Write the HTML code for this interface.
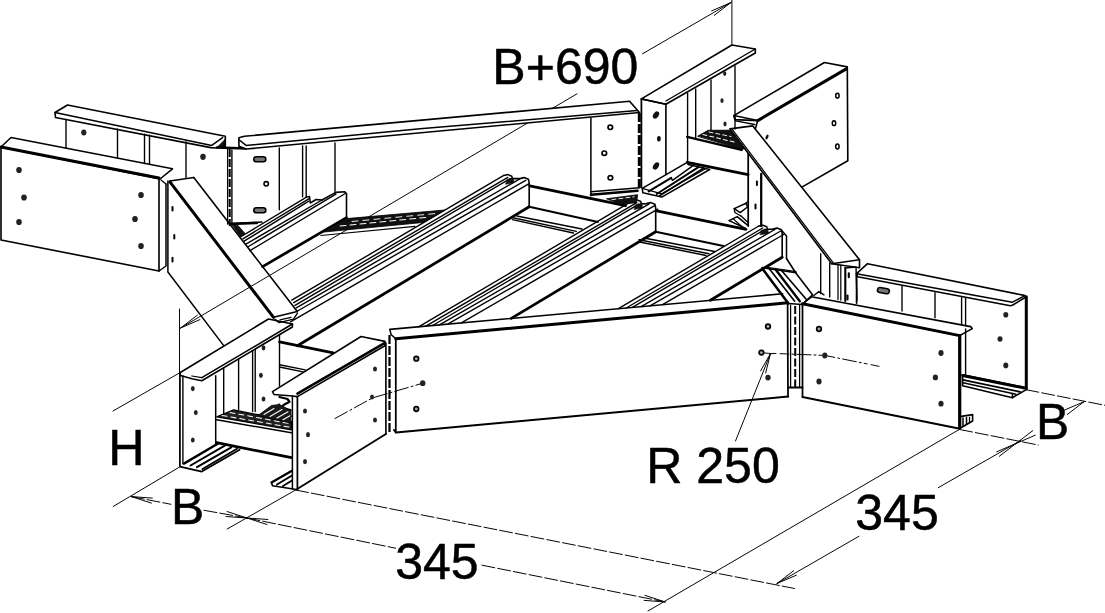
<!DOCTYPE html>
<html><head><meta charset="utf-8"><title>drawing</title>
<style>
html,body{margin:0;padding:0;background:#fff;}
body{width:1105px;height:613px;overflow:hidden;}
svg{display:block;}
text{font-family:"Liberation Sans",sans-serif;fill:#000;}
</style></head><body>
<svg width="1105" height="613" viewBox="0 0 1105 613" fill="none" stroke="#000" stroke-linecap="round" stroke-linejoin="round">
<rect x="0" y="0" width="1105" height="613" fill="#fff" stroke="none"/>
<text transform="translate(492.3,83.5) scale(0.995,1)" font-size="50.3" stroke="#000" stroke-width="0.5">B+690</text>
<text transform="translate(108.2,464.6) scale(0.995,1)" font-size="50.6" stroke="#000" stroke-width="0.5">H</text>
<text transform="translate(171.0,524.0) scale(0.985,1)" font-size="50.6" stroke="#000" stroke-width="0.5">B</text>
<text transform="translate(395.2,579.0) scale(0.995,1)" font-size="50.3" stroke="#000" stroke-width="0.5">345</text>
<text transform="translate(646.2,482.5) scale(0.995,1)" font-size="50.3" stroke="#000" stroke-width="0.5">R 250</text>
<text transform="translate(855.3,530.0) scale(0.995,1)" font-size="50.3" stroke="#000" stroke-width="0.5">345</text>
<text transform="translate(1036.0,439.3) scale(0.985,1)" font-size="50.6" stroke="#000" stroke-width="0.5">B</text>
<polyline points="180.6,328.0 577.0,93.8" stroke-width="0.98" />
<polyline points="642.5,53.8 731.0,2.5" stroke-width="0.98" />
<polyline points="180.6,328.0 197.3,315.2" stroke-width="0.98" />
<polyline points="180.6,328.0 199.9,319.6" stroke-width="0.98" />
<polyline points="731.0,2.5 714.3,15.3" stroke-width="0.98" />
<polyline points="731.0,2.5 711.7,10.9" stroke-width="0.98" />
<polyline points="731.9,0.0 731.9,45.0" stroke-width="0.98" />
<polyline points="179.5,309.0 179.5,372.0" stroke-width="0.98" />
<polyline points="113.0,411.0 179.9,372.7" stroke-width="0.98" />
<polyline points="113.2,506.5 179.3,467.2" stroke-width="0.98" />
<polyline points="295.6,490.0 227.2,529.0" stroke-width="0.98" />
<polyline points="131.4,496.6 171.0,504.3" stroke-width="0.98" stroke-dasharray="13 3"/>
<polyline points="204.0,510.3 247.0,518.0" stroke-width="0.98" stroke-dasharray="13 3"/>
<polyline points="247.0,518.0 395.7,548.2" stroke-width="0.98" stroke-dasharray="13 3"/>
<polyline points="482.0,565.2 665.0,601.9" stroke-width="0.98" stroke-dasharray="13 3"/>
<polyline points="295.6,490.0 794.5,588.5" stroke-width="0.98" stroke-dasharray="13 3"/>
<polyline points="131.4,496.6 152.3,498.1" stroke-width="0.98" />
<polyline points="131.4,496.6 151.4,503.1" stroke-width="0.98" />
<polyline points="247.0,518.0 226.1,516.5" stroke-width="0.98" />
<polyline points="247.0,518.0 227.0,511.5" stroke-width="0.98" />
<polyline points="247.0,518.0 267.9,519.5" stroke-width="0.98" />
<polyline points="247.0,518.0 267.0,524.5" stroke-width="0.98" />
<polyline points="665.0,601.9 644.1,600.4" stroke-width="0.98" />
<polyline points="665.0,601.9 645.0,595.4" stroke-width="0.98" />
<polyline points="959.7,429.2 648.0,611.0" stroke-width="0.98" />
<polyline points="959.7,429.5 1038.3,445.0" stroke-width="0.98" stroke-dasharray="13 3"/>
<polyline points="1026.0,389.7 1105.0,405.3" stroke-width="0.98" stroke-dasharray="13 3"/>
<polyline points="1020.8,440.5 938.2,487.7" stroke-width="0.98" />
<polyline points="858.9,536.3 777.0,583.5" stroke-width="0.98" />
<polyline points="777.0,583.5 793.7,570.7" stroke-width="0.98" />
<polyline points="777.0,583.5 796.3,575.2" stroke-width="0.98" />
<polyline points="1016.0,443.5 999.3,456.3" stroke-width="0.98" />
<polyline points="1016.0,443.5 996.7,451.8" stroke-width="0.98" />
<polyline points="1016.0,443.5 1032.7,430.7" stroke-width="0.98" />
<polyline points="1016.0,443.5 1035.3,435.2" stroke-width="0.98" />
<polyline points="1084.0,401.7 1067.3,414.5" stroke-width="0.98" />
<polyline points="1084.0,401.7 1064.7,410.0" stroke-width="0.98" />
<polyline points="770.5,353.5 735.5,441.0" stroke-width="0.98" />
<polyline points="761.5,352.7 773.0,353.7" stroke-width="0.98" />
<polyline points="770.5,353.5 765.7,372.9" stroke-width="0.98" />
<polyline points="770.5,353.5 760.6,370.9" stroke-width="0.98" />
<polyline points="335.0,418.5 372.3,398.0 422.7,383.2" stroke-width="0.98" stroke-dasharray="14 3 2 3"/>
<polyline points="773.0,353.4 824.8,355.4 879.0,366.3" stroke-width="0.98" stroke-dasharray="3 4 9 3 2 3 14 3 2 3"/>
<polygon points="11.0,137.5 172.5,168.8 160.0,179.0 1.0,147.0" stroke-width="1.5" fill="#fff" />
<polyline points="1.0,147.0 159.0,178.0" stroke-width="3.0" />
<polyline points="1.0,147.0 1.0,240.0 159.0,271.0 159.0,178.0" stroke-width="1.62" />
<polyline points="166.0,184.0 166.0,266.0 159.0,271.0" stroke-width="1.5" />
<polyline points="161.0,180.0 166.0,184.0" stroke-width="1.25" />
<ellipse cx="19.0" cy="170.0" rx="2.8" ry="3.1" fill="#222" stroke="none"/>
<ellipse cx="24.0" cy="197.5" rx="2.8" ry="3.1" fill="#222" stroke="none"/>
<ellipse cx="19.0" cy="222.0" rx="2.8" ry="3.1" fill="#222" stroke="none"/>
<ellipse cx="141.0" cy="195.0" rx="2.8" ry="3.1" fill="#222" stroke="none"/>
<ellipse cx="135.0" cy="219.0" rx="2.8" ry="3.1" fill="#222" stroke="none"/>
<ellipse cx="141.0" cy="246.0" rx="2.8" ry="3.1" fill="#222" stroke="none"/>
<polygon points="67.5,105.0 225.3,136.3 225.3,146.3 217.0,148.0 210.8,147.6 55.5,117.5 55.0,112.5" stroke-width="1.62" fill="#fff" />
<polyline points="55.0,112.5 211.7,145.4 222.6,137.7" stroke-width="1.5" />
<polygon points="218.0,146.5 225.0,139.5 225.0,146.5" stroke-width="0.8" fill="#111" />
<polyline points="217.0,147.6 246.0,148.4" stroke-width="2.5" />
<polyline points="66.0,120.0 66.0,148.0" stroke-width="1.38" />
<polyline points="117.5,129.0 117.5,158.0" stroke-width="1.38" />
<polyline points="144.5,134.3 144.5,163.5" stroke-width="1.38" />
<polyline points="149.5,135.2 149.5,164.4" stroke-width="1.38" />
<polyline points="186.0,141.8 186.0,178.0" stroke-width="1.38" />
<ellipse cx="83.8" cy="132.5" rx="2.6" ry="3.0" fill="#222" stroke="none"/>
<ellipse cx="203.0" cy="156.8" rx="2.8" ry="3.1" fill="#222" stroke="none"/>
<polyline points="229.7,149.0 229.7,226.0" stroke-width="2.0" stroke-dasharray="8 2" stroke-linecap="butt"/>
<polyline points="231.9,150.0 231.9,223.6" stroke-width="1.38" />
<polyline points="227.6,149.0 227.6,224.0" stroke-width="1.25" />
<polygon points="238.9,137.7 244.3,136.3 629.6,101.3 639.4,112.5 246.1,149.0 238.9,146.3" stroke-width="1.62" fill="#fff" />
<polyline points="239.3,140.0 246.1,145.4 420.0,128.8 637.2,110.6" stroke-width="1.5" />
<polyline points="279.3,148.0 279.3,209.7" stroke-width="1.38" />
<polyline points="302.6,146.0 302.6,196.7" stroke-width="1.38" />
<polyline points="306.2,146.0 306.2,196.7" stroke-width="1.38" />
<polyline points="335.0,143.0 335.0,193.7" stroke-width="1.38" />
<rect x="253.8" y="156.8" width="12" height="5" rx="2.5" stroke-width="1.6" fill="#777"/>
<rect x="253.8" y="207.8" width="12" height="5" rx="2.5" stroke-width="1.6" fill="#777"/>
<ellipse cx="266.2" cy="183.8" rx="2.2" ry="2.2" fill="#fff" stroke-width="1.6"/>
<polyline points="231.9,223.6 262.0,222.0" stroke-width="1.5" />
<polyline points="169.9,180.9 193.8,177.5" stroke-width="1.5" />
<polyline points="169.9,181.9 273.5,317.3" stroke-width="3.0" />
<polyline points="193.8,177.5 297.3,311.6" stroke-width="1.62" />
<polyline points="167.9,181.0 167.9,272.0 223.7,345.6" stroke-width="1.5" />
<polyline points="273.5,317.3 297.3,311.6" stroke-width="1.5" />
<polyline points="172.5,207.0 172.5,210.6" stroke-width="2.0" />
<polyline points="174.3,234.9 174.3,238.5" stroke-width="2.0" />
<polyline points="172.5,257.8 172.5,261.4" stroke-width="2.0" />
<polygon points="179.9,372.7 268.5,319.0 292.4,324.0 292.4,327.0 201.8,380.7 191.9,378.7 180.5,375.5" stroke-width="1.62" fill="#fff" />
<polyline points="201.8,377.7 292.4,324.0" stroke-width="1.5" />
<polyline points="191.9,376.0 201.8,377.7" stroke-width="1.25" />
<polyline points="179.9,372.7 179.9,466.6 201.8,471.6 239.6,449.7" stroke-width="1.75" />
<polyline points="182.9,376.0 182.9,463.8" stroke-width="1.38" />
<polyline points="183.9,463.6 217.7,443.7" stroke-width="2.38" />
<polyline points="190.5,465.5 224.8,445.7" stroke-width="2.0" />
<polyline points="197.0,467.2 231.3,447.3" stroke-width="2.0" />
<polyline points="202.5,469.0 237.0,448.8" stroke-width="1.88" />
<polyline points="215.7,375.7 215.7,443.7" stroke-width="1.5" />
<polyline points="223.7,367.7 223.7,414.0" stroke-width="1.38" />
<polyline points="238.6,358.9 238.6,409.5" stroke-width="1.38" />
<polyline points="252.6,350.6 252.6,411.5" stroke-width="1.38" />
<polyline points="255.2,349.0 255.2,411.5" stroke-width="1.38" />
<polyline points="279.5,334.6 279.5,386.0" stroke-width="1.38" />
<ellipse cx="192.8" cy="388.6" rx="1.9" ry="2.6" fill="#222" stroke="none"/>
<ellipse cx="195.8" cy="412.5" rx="1.9" ry="2.6" fill="#222" stroke="none"/>
<ellipse cx="192.8" cy="440.0" rx="1.9" ry="2.6" fill="#222" stroke="none"/>
<ellipse cx="263.5" cy="347.8" rx="1.9" ry="2.6" fill="#222" stroke="none"/>
<ellipse cx="260.9" cy="375.3" rx="1.9" ry="2.6" fill="#222" stroke="none"/>
<ellipse cx="263.5" cy="399.0" rx="1.9" ry="2.6" fill="#222" stroke="none"/>
<polygon points="216.7,416.8 233.7,409.9 291.4,421.5 291.4,429.8" stroke-width="1.25" fill="#222" />
<polyline points="222.0,415.5 289.0,427.0" stroke-width="1.03" stroke="#fff" stroke-dasharray="5 4"/>
<polyline points="230.0,412.5 289.0,423.5" stroke-width="1.03" stroke="#fff" stroke-dasharray="5 4"/>
<polyline points="216.7,419.8 291.4,432.8" stroke-width="1.5" />
<polyline points="216.7,442.7 291.4,457.6" stroke-width="2.75" />
<polygon points="272.5,391.6 361.0,336.5 384.9,341.4 384.9,345.8 297.4,396.6 292.4,396.0 274.0,394.5" stroke-width="1.62" fill="#fff" />
<polyline points="297.4,393.6 384.9,342.8" stroke-width="2.5" />
<polyline points="292.4,396.0 292.4,489.0" stroke-width="1.5" />
<polyline points="297.4,396.6 297.4,489.5" stroke-width="1.75" />
<polyline points="296.4,489.5 385.9,434.0" stroke-width="1.88" />
<polyline points="271.5,482.5 272.5,485.8 296.4,489.5" stroke-width="1.62" />
<polyline points="271.5,482.5 291.5,471.0" stroke-width="2.25" />
<polyline points="277.0,484.5 292.0,475.5" stroke-width="2.0" />
<polyline points="283.0,486.0 292.0,480.5" stroke-width="2.0" />
<ellipse cx="305.0" cy="411.0" rx="2.0" ry="2.6" fill="#222" stroke="none"/>
<ellipse cx="308.0" cy="434.7" rx="2.0" ry="2.6" fill="#222" stroke="none"/>
<ellipse cx="305.0" cy="461.6" rx="2.0" ry="2.6" fill="#222" stroke="none"/>
<ellipse cx="375.0" cy="369.0" rx="2.0" ry="2.6" fill="#222" stroke="none"/>
<ellipse cx="372.0" cy="397.0" rx="2.0" ry="2.6" fill="#222" stroke="none"/>
<ellipse cx="375.0" cy="420.0" rx="2.0" ry="2.6" fill="#222" stroke="none"/>
<polyline points="385.9,343.0 385.9,434.0" stroke-width="1.62" />
<polyline points="389.5,335.0 389.5,434.0" stroke-width="2.25" stroke-dasharray="9 2" stroke-linecap="butt"/>
<polyline points="395.8,338.8 395.8,432.5" stroke-width="1.75" />
<polyline points="389.9,329.4 782.6,293.8" stroke-width="1.62" />
<polyline points="389.9,329.4 391.0,334.5 395.8,338.8" stroke-width="1.5" />
<polyline points="395.8,338.8 787.6,302.8" stroke-width="3.0" />
<polyline points="787.6,302.8 788.0,396.6" stroke-width="1.75" />
<polyline points="394.0,430.0 395.9,432.5 788.2,396.6" stroke-width="2.0" />
<ellipse cx="422.7" cy="383.2" rx="2.7" ry="2.9" fill="#222" stroke="none"/>
<ellipse cx="768.0" cy="377.6" rx="2.7" ry="2.9" fill="#222" stroke="none"/>
<circle cx="416.3" cy="358.7" r="2.3" fill="#aaa" stroke-width="1.7"/>
<circle cx="416.3" cy="409" r="2.3" fill="#aaa" stroke-width="1.7"/>
<circle cx="768" cy="326.5" r="2.3" fill="#aaa" stroke-width="1.7"/>
<circle cx="761.4" cy="352.6" r="2.3" fill="#aaa" stroke-width="1.7"/>
<polygon points="802.5,303.8 811.5,296.8 970.6,326.6 972.2,328.6 959.7,335.6" stroke-width="1.62" fill="#fff" />
<polyline points="802.5,303.8 959.7,335.6" stroke-width="3.0" />
<polyline points="802.5,303.8 802.5,397.0" stroke-width="1.75" />
<polyline points="959.7,335.6 959.7,427.5" stroke-width="3.25" />
<polyline points="802.5,397.0 958.7,428.5" stroke-width="2.0" />
<polyline points="959.7,416.6 972.6,414.6 972.6,421.0 959.7,428.5" stroke-width="1.62" />
<polyline points="963.0,418.0 963.0,426.0" stroke-width="1.5" />
<polyline points="966.5,417.5 966.5,424.0" stroke-width="1.5" />
<polyline points="969.5,417.0 969.5,422.5" stroke-width="1.25" />
<ellipse cx="824.8" cy="355.5" rx="2.6" ry="2.9" fill="#222" stroke="none"/>
<ellipse cx="819.0" cy="381.5" rx="2.6" ry="2.9" fill="#222" stroke="none"/>
<ellipse cx="941.0" cy="353.0" rx="2.6" ry="2.9" fill="#222" stroke="none"/>
<ellipse cx="935.4" cy="377.4" rx="2.6" ry="2.9" fill="#222" stroke="none"/>
<ellipse cx="941.0" cy="403.7" rx="2.6" ry="2.9" fill="#222" stroke="none"/>
<circle cx="819" cy="329" r="2.3" fill="#aaa" stroke-width="1.7"/>
<polygon points="867.5,263.7 1024.4,295.4 1026.3,296.8 1012.4,305.3 1010.4,305.7 857.6,276.7 856.6,273.7" stroke-width="1.62" fill="#fff" />
<polyline points="856.6,273.7 1012.4,302.2 1024.4,295.9" stroke-width="1.5" />
<polyline points="1026.3,296.8 1026.3,388.7" stroke-width="3.0" />
<polyline points="902.0,285.7 902.0,311.0" stroke-width="1.38" />
<polyline points="935.0,292.7 935.0,317.7" stroke-width="1.38" />
<polyline points="961.6,297.8 961.6,324.7" stroke-width="1.38" />
<polyline points="965.6,298.5 965.6,325.5" stroke-width="1.38" />
<polyline points="965.6,329.0 965.6,375.0" stroke-width="1.38" />
<rect x="877.4" y="288.1" width="12" height="5" rx="2.5" stroke-width="1.6" fill="#777" transform="rotate(10 883.4 290.6)"/>
<ellipse cx="1005.8" cy="314.7" rx="2.5" ry="2.8" fill="#222" stroke="none"/>
<ellipse cx="1000.0" cy="339.0" rx="2.5" ry="2.8" fill="#222" stroke="none"/>
<ellipse cx="1005.8" cy="365.4" rx="2.5" ry="2.8" fill="#222" stroke="none"/>
<polygon points="962.6,374.8 1026.0,387.7 1026.0,389.7 1012.4,397.7 962.6,385.7" stroke-width="1.62" fill="#fff" />
<polyline points="962.6,375.5 1026.0,388.3" stroke-width="3.0" />
<polyline points="963.0,379.8 1020.0,391.8" stroke-width="1.88" />
<polyline points="963.0,382.8 1016.0,394.2" stroke-width="1.5" />
<polyline points="1012.4,393.5 1012.4,397.7" stroke-width="1.5" />
<polygon points="733.8,115.6 824.4,62.5 847.3,66.9 847.8,160.8 801.0,187.6 755.0,130.0 757.7,120.6 734.8,119.6" stroke-width="1.62" fill="#fff" />
<polyline points="733.8,115.6 757.7,120.6" stroke-width="1.5" />
<polyline points="757.7,120.6 846.3,68.9" stroke-width="3.0" />
<ellipse cx="837.4" cy="95.7" rx="1.7" ry="2.4" fill="#fff" stroke-width="1.5"/>
<ellipse cx="834" cy="123.2" rx="1.7" ry="2.4" fill="#fff" stroke-width="1.5"/>
<ellipse cx="837.4" cy="146.5" rx="1.7" ry="2.4" fill="#fff" stroke-width="1.5"/>
<polygon points="729.9,128.9 752.8,125.9 859.5,259.7 859.5,267.7 831.7,263.7" stroke-width="1.62" fill="#fff" />
<polyline points="732.2,129.3 833.5,263.2" stroke-width="1.25" />
<polyline points="831.7,263.7 859.5,259.7" stroke-width="1.5" />
<polyline points="820.7,253.8 820.7,293.6" stroke-width="1.38" />
<polyline points="829.7,263.0 829.7,297.0" stroke-width="1.38" />
<polyline points="838.0,265.0 838.0,299.5" stroke-width="1.25" />
<polyline points="840.8,265.3 840.8,300.0" stroke-width="1.25" />
<polyline points="845.3,268.0 845.3,301.0" stroke-width="2.12" />
<polyline points="856.6,273.7 856.6,303.0" stroke-width="1.75" />
<polygon points="641.4,98.9 731.9,45.0 755.3,49.0 755.3,53.0 665.9,104.3" stroke-width="1.62" fill="#fff" />
<polyline points="665.9,104.3 641.4,98.9" stroke-width="1.5" />
<polyline points="665.9,101.0 755.3,49.0" stroke-width="1.38" />
<polyline points="641.4,98.9 641.4,187.0" stroke-width="1.75" />
<polyline points="665.9,104.3 665.9,174.8" stroke-width="1.62" />
<ellipse cx="656" cy="115" rx="2.6" ry="4" fill="#111" stroke="none" transform="rotate(35 656 115)"/>
<ellipse cx="658.9" cy="138.7" rx="1.9" ry="2.8" fill="#111" stroke="none"/>
<ellipse cx="656" cy="165.9" rx="2.6" ry="4" fill="#111" stroke="none" transform="rotate(35 656 165.9)"/>
<polyline points="687.6,93.5 687.6,161.0" stroke-width="1.38" />
<polyline points="695.7,89.0 695.7,137.8" stroke-width="1.38" />
<polyline points="711.0,80.0 711.0,132.0" stroke-width="1.38" />
<polyline points="735.0,66.0 735.0,129.0" stroke-width="1.38" />
<ellipse cx="724.7" cy="73.6" rx="1.6" ry="2.4" fill="#222" stroke="none"/>
<ellipse cx="722.0" cy="100.7" rx="1.6" ry="2.4" fill="#222" stroke="none"/>
<ellipse cx="725.0" cy="124.0" rx="1.6" ry="2.4" fill="#222" stroke="none"/>
<polyline points="590.9,118.0 590.9,195.7" stroke-width="1.5" />
<polyline points="590.9,191.7 639.6,187.7" stroke-width="1.5" />
<polyline points="590.9,194.7 637.6,190.7" stroke-width="2.5" />
<ellipse cx="610.3" cy="127.3" rx="2.3" ry="2.2" fill="#fff" stroke-width="1.7"/>
<ellipse cx="604.3" cy="153.2" rx="2.3" ry="2.2" fill="#fff" stroke-width="1.7"/>
<ellipse cx="610.4" cy="177.8" rx="2.3" ry="2.2" fill="#fff" stroke-width="1.7"/>
<polyline points="639.3,113.0 639.3,190.0" stroke-width="3.0" stroke-dasharray="9 2" stroke-linecap="butt"/>
<polyline points="503.8,175.4 291.8,300.2" stroke-width="1.38" />
<polyline points="507.8,177.4 293.7,302.7" stroke-width="1.38" />
<polyline points="509.8,178.9 295.0,305.3" stroke-width="1.38" />
<polyline points="519.8,178.9 296.3,307.8" stroke-width="1.38" />
<polyline points="525.7,180.4 297.5,311.0" stroke-width="1.38" />
<polyline points="528.7,183.9 290.5,321.8" stroke-width="1.38" />
<polyline points="529.2,206.8 297.4,345.8" stroke-width="2.75" />
<polyline points="503.8,175.4 508.0,174.6 511.8,176.2 512.3,178.6 509.8,178.9" stroke-width="1.5" />
<polyline points="512.3,178.6 519.8,178.6 524.0,177.6 528.4,179.2 529.2,182.9 529.2,206.8" stroke-width="1.62" />
<polygon points="507.2,179.4 513.6,179.6 513.8,182.6 505.8,184.2" stroke-width="0.6" fill="#111" />
<polyline points="632.8,200.7 418.6,326.8" stroke-width="1.38" />
<polyline points="636.8,202.7 425.9,326.1" stroke-width="1.38" />
<polyline points="638.8,204.2 432.6,325.5" stroke-width="1.38" />
<polyline points="648.8,204.2 439.5,324.9" stroke-width="1.38" />
<polyline points="654.7,205.7 447.7,324.2" stroke-width="1.38" />
<polyline points="657.7,209.2 461.3,322.9" stroke-width="1.38" />
<polyline points="655.7,231.8 511.3,318.4" stroke-width="2.75" />
<polyline points="632.8,200.7 637.0,199.9 640.8,201.5 641.3,203.9 638.8,204.2" stroke-width="1.5" />
<polyline points="641.3,203.9 646.3,203.6 650.5,202.6 654.9,204.2 655.7,207.9 655.7,231.8" stroke-width="1.62" />
<polygon points="635.7,204.7 642.1,204.9 642.3,207.9 634.3,209.5" stroke-width="0.6" fill="#111" />
<polyline points="758.8,226.0 618.4,308.7" stroke-width="1.38" />
<polyline points="762.8,228.0 626.2,308.0" stroke-width="1.38" />
<polyline points="764.8,229.5 632.4,307.4" stroke-width="1.38" />
<polyline points="774.8,229.5 641.1,306.6" stroke-width="1.38" />
<polyline points="780.7,231.0 650.0,305.8" stroke-width="1.38" />
<polyline points="783.7,234.5 662.5,304.7" stroke-width="1.38" />
<polyline points="782.2,257.3 710.4,300.3" stroke-width="2.75" />
<polyline points="758.8,226.0 763.0,225.2 766.8,226.8 767.3,229.2 764.8,229.5" stroke-width="1.5" />
<polyline points="767.3,229.2 772.8,229.1 777.0,228.1 781.4,229.7 782.2,233.4 782.2,257.3" stroke-width="1.62" />
<polygon points="761.7,230.0 768.1,230.2 768.3,233.2 760.3,234.8" stroke-width="0.6" fill="#111" />
<polyline points="529.7,185.9 625.5,205.7" stroke-width="2.75" />
<polyline points="529.2,206.8 598.0,221.9" stroke-width="2.0" />
<polyline points="516.8,216.0 582.0,229.0" stroke-width="1.38" />
<polyline points="511.7,217.5 576.3,231.3" stroke-width="1.38" />
<polyline points="512.4,219.7 573.4,233.0" stroke-width="1.38" />
<polyline points="656.7,210.9 746.0,229.3" stroke-width="2.75" />
<polyline points="655.7,231.8 723.5,246.0" stroke-width="2.0" />
<polyline points="644.0,238.0 714.7,251.5" stroke-width="1.38" />
<polyline points="639.0,239.8 709.0,253.7" stroke-width="1.38" />
<polyline points="639.6,242.0 706.0,255.5" stroke-width="1.38" />
<polyline points="306.5,197.1 241.2,236.5" stroke-width="1.38" />
<polyline points="308.8,198.8 242.9,238.8" stroke-width="1.38" />
<polyline points="308.8,201.2 244.1,241.2" stroke-width="1.38" />
<polyline points="322.0,200.0 245.9,244.1" stroke-width="1.38" />
<polyline points="335.9,194.1 247.6,247.0" stroke-width="1.38" />
<polyline points="345.3,193.5 250.0,250.6" stroke-width="1.38" />
<polyline points="346.5,217.6 262.6,266.6" stroke-width="2.75" />
<polyline points="306.5,197.1 309.5,196.5 310.3,203.0 316.0,199.5 322.0,200.0" stroke-width="1.5" />
<polyline points="322.0,200.0 335.9,192.4 344.7,191.8 346.5,193.5 346.5,217.6" stroke-width="1.62" />
<polyline points="230.0,224.1 257.0,223.0" stroke-width="2.5" />
<polygon points="346.5,218.6 444.8,210.0 423.0,222.5 324.1,232.0" stroke-width="0.8" fill="#111" />
<polyline points="340.0,226.0 428.0,217.2" stroke-width="1.03" stroke="#fff" stroke-dasharray="6 4"/>
<polyline points="352.0,221.5 436.0,213.5" stroke-width="0.92" stroke="#fff" stroke-dasharray="6 5"/>
<polyline points="321.0,235.5 415.0,226.4" stroke-width="1.25" />
<polyline points="279.5,341.9 333.2,352.8" stroke-width="2.75" />
<polyline points="279.5,364.7 305.3,369.9" stroke-width="1.38" />
<polyline points="279.5,367.0 303.0,371.9" stroke-width="1.38" />
<polyline points="275.0,319.3 279.0,322.6 293.5,319.2 297.3,313.3" stroke-width="1.38" />
<polyline points="280.0,319.8 291.0,317.4" stroke-width="1.25" />
<polyline points="279.5,397.0 287.5,399.0 289.5,401.8 283.5,405.0 281.5,408.0 290.5,410.0" stroke-width="2.25" />
<polyline points="284.0,412.0 291.0,416.0" stroke-width="2.0" />
<polyline points="279.0,404.0 279.0,409.0 284.0,415.0" stroke-width="1.5" />
<polygon points="698.0,136.1 708.2,130.3 730.8,130.2 744.8,148.6 741.6,149.2" stroke-width="0.9" fill="#111" />
<polyline points="703.0,134.5 736.0,142.5" stroke-width="1.03" stroke="#fff" stroke-dasharray="4 3"/>
<polyline points="709.0,132.0 731.0,136.5" stroke-width="0.92" stroke="#fff" stroke-dasharray="4 3"/>
<polyline points="687.2,136.9 741.6,149.9" stroke-width="2.5" />
<polyline points="687.2,162.3 748.2,174.6" stroke-width="2.75" />
<polyline points="748.2,153.6 748.2,226.0" stroke-width="1.75" />
<polyline points="761.2,173.9 761.2,226.0" stroke-width="2.25" />
<polyline points="756.9,181.5 756.9,185.0" stroke-width="2.0" />
<polyline points="755.5,204.5 755.5,208.5" stroke-width="2.0" />
<polygon points="666.1,174.6 642.2,188.4 642.9,192.8 661.8,197.1 709.7,169.5 688.0,164.5 687.2,162.3" stroke-width="1.5" fill="#fff" />
<polyline points="648.7,191.3 671.2,177.9" stroke-width="2.12" />
<polyline points="671.2,177.9 672.5,180.3 692.0,166.3" stroke-width="1.5" />
<polyline points="656.7,194.0 698.1,167.4" stroke-width="2.0" />
<polyline points="659.6,195.7 703.9,168.1" stroke-width="1.75" />
<polyline points="642.2,188.4 661.8,193.8 706.0,168.5" stroke-width="1.25" />
<polyline points="734.4,115.8 735.8,120.9 754.7,124.5" stroke-width="1.38" />
<ellipse cx="767" cy="137" rx="1.3" ry="2.6" fill="#111" stroke="none" transform="rotate(25 767 137)"/>
<polyline points="734.2,208.6 746.1,203.2 747.5,207.0 740.2,212.6 734.2,208.6" stroke-width="1.5" />
<polyline points="734.2,208.6 734.8,212.5 741.0,216.0" stroke-width="1.38" />
<polyline points="729.2,220.6 737.2,216.6 747.5,225.2" stroke-width="1.5" />
<polyline points="729.2,220.6 745.2,228.2" stroke-width="1.5" />
<polyline points="733.0,218.6 742.0,226.8" stroke-width="1.25" />
<polyline points="741.0,216.0 748.2,222.5" stroke-width="1.38" />
<polyline points="746.1,203.2 748.2,201.0" stroke-width="1.25" />
<polyline points="782.2,231.0 786.5,236.0 786.5,258.5" stroke-width="1.5" />
<polyline points="786.5,258.5 796.0,273.2 812.5,294.8" stroke-width="1.62" />
<polyline points="762.3,267.6 796.0,272.8" stroke-width="1.62" />
<polyline points="765.5,267.0 796.0,271.6" stroke-width="1.25" />
<polyline points="762.3,268.5 788.4,303.5" stroke-width="2.5" />
<polyline points="769.5,269.0 794.7,301.2" stroke-width="1.62" />
<polyline points="776.0,270.0 799.8,301.2" stroke-width="2.38" />
<polyline points="782.0,271.0 806.2,299.3" stroke-width="1.62" />
<polyline points="788.4,303.5 802.4,304.4" stroke-width="1.5" />
<polyline points="790.6,305.0 790.6,387.0" stroke-width="1.25" />
<polyline points="799.6,305.0 799.6,387.0" stroke-width="1.25" />
<polyline points="795.2,306.0 795.2,387.0" stroke-width="2.0" stroke-dasharray="8 2.5" stroke-linecap="butt"/>
<polyline points="788.0,387.5 802.5,387.5" stroke-width="2.0" />
<polyline points="802.4,304.4 812.5,294.8" stroke-width="1.5" />
<polyline points="845.0,268.0 856.0,267.0 857.0,300.0" stroke-width="1.38" />
<polyline points="848.8,273.4 848.8,277.2" stroke-width="2.12" />
<polyline points="847.5,295.5 847.5,299.5" stroke-width="2.12" />
<polyline points="813.8,295.5 818.9,291.6 824.0,294.8" stroke-width="1.38" />
<polygon points="231.9,224.5 240.5,236.5 245.0,233.5 238.0,225.5" stroke-width="0.8" fill="#111" />
<polygon points="606.8,198.7 637.6,194.7 636.6,202.7 621.0,204.3" stroke-width="0.8" fill="#111" />
<polyline points="612.0,199.6 634.0,196.8" stroke-width="0.92" stroke="#fff" stroke-dasharray="4 3"/>
<polygon points="258.0,415.5 271.5,405.5 279.5,404.5 290.8,410.5 290.8,422.5" stroke-width="0.8" fill="#1a1a1a" />
<polyline points="264.0,414.5 274.0,408.5" stroke-width="1.03" stroke="#fff"/>
<polyline points="270.0,416.5 282.0,409.5" stroke-width="1.03" stroke="#fff"/>
<polyline points="277.0,418.0 288.0,411.8" stroke-width="1.03" stroke="#fff"/>
<polyline points="283.0,419.8 290.0,415.8" stroke-width="1.03" stroke="#fff"/>
</svg>
</body></html>
